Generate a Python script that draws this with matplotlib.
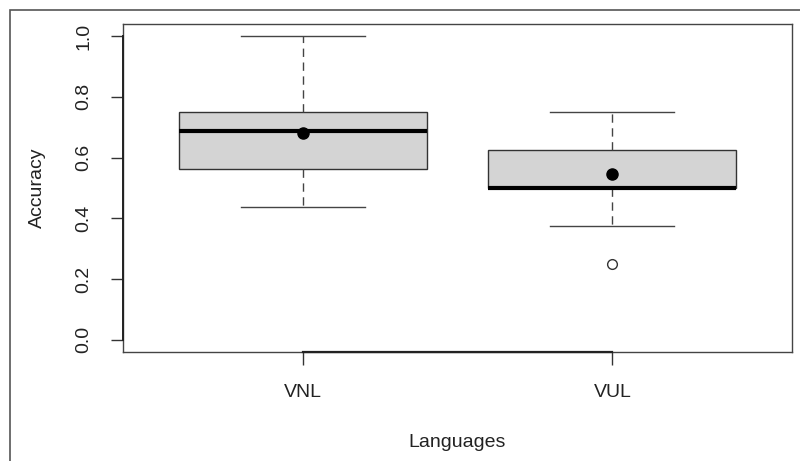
import matplotlib.pyplot as plt
from matplotlib.patches import Rectangle

plt.rcParams['font.family'] = ['Liberation Sans', 'DejaVu Sans']

languages = ['VNL', 'VUL']
q1 = [0.5625, 0.5]
median = [0.6875, 0.5]
q3 = [0.75, 0.625]
whisker_low = [0.4375, 0.375]
whisker_high = [1.0, 0.75]
means = [0.68, 0.546]
outliers = [[], [0.25]]

stats = []
for i in range(len(languages)):
    stats.append(dict(label=languages[i], q1=q1[i], med=median[i], q3=q3[i],
                      whislo=whisker_low[i], whishi=whisker_high[i],
                      mean=means[i], fliers=outliers[i]))

fig = plt.figure(figsize=(8, 4.61), dpi=100)
ax = fig.add_axes([0.15375, 0.2364, 0.99 - 0.15375, 0.948 - 0.2364])

# outer frame of the figure (left and top edges visible)
fig.patches.append(Rectangle((10 / 800, -0.1), 1.0, 1 - 10 / 461 + 0.1,
                             transform=fig.transFigure, fill=False,
                             edgecolor='#555555', linewidth=1.2))

ax.bxp(stats, positions=[1, 2], widths=0.8, patch_artist=True,
       showmeans=True,
       boxprops=dict(facecolor='#d4d4d4', edgecolor='#333333', linewidth=1.0),
       medianprops=dict(color='black', linewidth=3, solid_capstyle='butt'),
       whiskerprops=dict(color='#444444', linestyle=(0, (6, 4)), linewidth=1.0),
       capprops=dict(color='#444444', linewidth=1.0),
       capwidths=0.4,
       meanprops=dict(marker='o', markerfacecolor='black', markeredgecolor='black', markersize=8),
       flierprops=dict(marker='o', markerfacecolor='white', markeredgecolor='#333333',
                       markersize=7, markeredgewidth=1.0))

ax.set_xlim(0.42, 2.58)
ax.set_ylim(-0.04, 1.04)

ax.set_yticks([0.0, 0.2, 0.4, 0.6, 0.8, 1.0])
ax.set_yticklabels(['0.0', '0.2', '0.4', '0.6', '0.8', '1.0'], rotation=90, va='center')
ax.set_xticks([1, 2])
ax.set_xticklabels(languages)
ax.tick_params(axis='both', direction='out', length=9, width=1.0, color='#333333',
               labelsize=14, labelcolor='#222222')
ax.tick_params(axis='y', pad=13)
ax.tick_params(axis='x', pad=14)

for s in ax.spines.values():
    s.set_color('#444444')
    s.set_linewidth(1.0)

# R-style axis lines spanning only the tick range
ax.plot([1, 2], [-0.04, -0.04], color='#222222', linewidth=1.6, clip_on=False, zorder=5)
ax.plot([0.42, 0.42], [0.0, 1.0], color='#222222', linewidth=1.4, clip_on=False, zorder=5)

ax.set_xlabel('Languages', fontsize=14, color='#222222', labelpad=24)
ax.set_ylabel('Accuracy', fontsize=14, color='#222222', labelpad=21)

fig.savefig('out.png', dpi=100)
